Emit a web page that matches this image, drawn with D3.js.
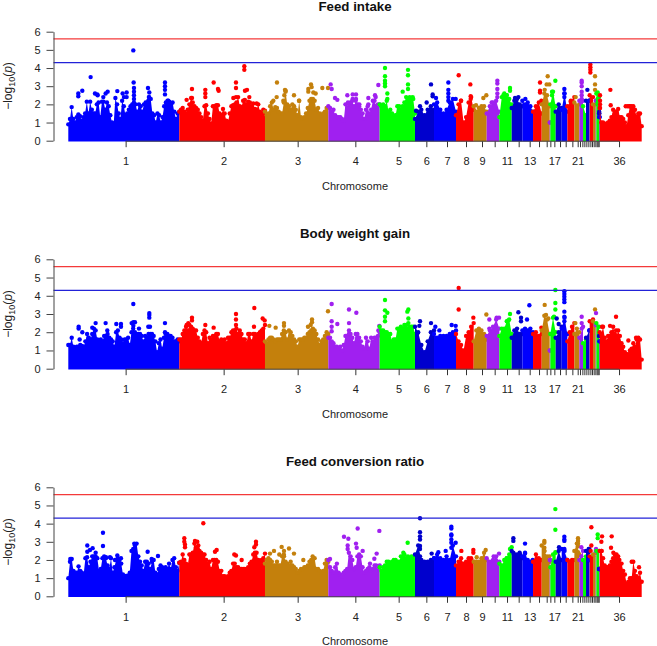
<!DOCTYPE html>
<html><head><meta charset="utf-8">
<script src="https://cdnjs.cloudflare.com/ajax/libs/d3/7.8.5/d3.min.js"></script>
<style>html,body{margin:0;padding:0;background:#fff}svg{display:block}text{font-family:"Liberation Sans",Arial,sans-serif;fill:#222}</style>
</head><body><svg id="c" width="657" height="646"></svg>
<script>
// Chromosome boundaries on a shared genome coordinate
const chromStarts=[205,538,795,985,1139,1245,1302,1368,1421,1460,1498,1535,1567,1599,1625,1649,1651,1667,1685,1702,1723,1738,1749,1758,1768,1769,1779,1787,1789,1797,1798,1799,1925];
const chromColors=["#0000ff","#ff0000","#c4800c","#a020f0","#00ff00","#0000cd"];
const tickPositions=[377,671,893,1066,1196,1279,1341,1398,1446,1484,1521,1556,1589,1617,1640,1651,1663,1680,1697,1717,1733,1740,1747,1753,1759,1765,1771,1776,1781,1786,1790,1793,1796,1857];
const tickLabels=["1","2","3","4","5","6","7","8","9","","11","","13","","","","17","","","","21","","","","","","","","","","","","","36"];
const yTicks=[0,1,2,3,4,5,6];
const thresholds=[5.6,4.3];
const titles=["Feed intake","Body weight gain","Feed conversion ratio"];

const fiEnvelope=[
[0.9,1.2,1.85,1.2,1.0,1.3,1.45,1.35,1.1,1.3,1.5,2.15,1.5,2.15,1.7,1.5,1.5,2.0,2.1,1.3,2.15,2.15,1.7,2.1,1.9,1.4,1.0,0.95,2.35,2.0,1.5,1.2,2.2,1.9,1.4,1.5,1.7,1.9,2.0,2.1,2.0,1.6,2.0,1.9,1.6,2.0,2.1,2.0,2.4,2.3,1.5,1.4,1.0,1.5,1.4,1.0,1.3,1.9,2.1,2.2,2.15,2.0,2.1,1.6,1.2,1.5,1.6],
[1.6,1.7,1.8,1.6,1.5,1.7,2.0,2.35,2.1,1.9,1.8,1.7,1.5,1.3,1.1,1.9,1.95,1.5,1.2,0.95,1.9,1.9,1.95,1.95,1.5,1.4,1.75,1.5,1.1,1.05,1.5,1.9,1.95,2.0,2.1,2.4,1.9,1.85,2.2,2.25,2.0,2.15,2.1,1.9,2.05,1.75,1.7,2.0,1.6,1.5,1.7,1.65],
[1.6,1.4,1.5,1.9,2.1,1.7,1.85,1.8,1.6,1.5,1.5,2.1,2.7,2.0,1.9,1.7,2.0,1.9,1.7,1.4,2.2,1.3,1.2,1.3,1.5,1.8,2.2,2.3,2.3,2.2,1.7,1.8,1.5,1.4,1.5,1.6,1.8,1.85],
[1.9,1.8,1.6,1.7,1.4,1.3,1.3,1.3,1.2,1.1,2.0,1.8,2.0,2.1,2.2,1.9,2.2,2.0,1.9,1.7,1.5,1.2,1.7,1.9,1.5,1.7,2.2,2.2,1.9,2.0,2.0],
[2.0,1.9,2.0,1.9,2.2,1.6,1.7,1.5,1.35,1.4,1.9,1.9,1.7,1.9,2.1,2.4,2.3,2.4,2.35,2.3,1.5],
[1.2,1.6,1.7,1.4,1.7,1.9,1.7],
[2.0,2.1,1.7,1.5,1.7,2.1,2.3,1.6],
[1.4,2.0,2.2,1.0,1.3,2.1,2.4,1.7],
[1.9,1.6,1.8,1.9,1.9,1.6],
[1.5,1.9,2.1,2.2,1.6],
[1.3,2.4,2.6,2.5,2.3,2.0],
[1.8,2.2,2.3,2.0,1.9],
[2.2,2.0,2.1,1.9,1.6],
[1.6,1.9,2.1,1.5],
[2.0,2.6,2.5,1.9],
[1.0],
[2.0,2.7,1.9],
[1.6,2.0,1.8],
[1.7,2.6,1.6],
[1.9,2.2,2.4],
[2.1,2.0],
[2.2,2.2],
[1.9,1.4],
[2.2,2.2],
[2.2],
[2.5,2.4],
[2.0,2.0],
[2.2],
[2.6,2.4],
[1.5],
[1.3],
[1.8,1.0,1.0,0.9,0.95,1.0,1.1,1.3,1.7,1.5,1.6,1.75,1.3,1.3,1.2,1.0,0.8,1.4,1.9,1.9,1.9,1.7,1.3,1.4,1.5,0.8]];
const fiPeaks=[[272,3.5],[400,4.97],[401,3.2],[402,2.9],[402,2.7],[402,2.5],[402,2.3],[247,2.75],[235,2.6],[235,2.45],[285,2.6],[292,2.55],[293,2.5],[310,2.4],[317,2.6],[323,2.7],[352,2.73],[368,2.6],[380,2.65],[380,2.4],[372,2.4],[444,2.9],[448,2.65],[447,2.4],[445,2.2],[495,3.2],[495,3.0],[495,2.8],[495,2.55],[505,2.2],
[733,4.1],[733,3.9],[641,3.2],[708,3.2],[708,2.9],[576,2.85],[616,2.8],[616,2.6],[616,2.4],[654,2.85],[656,2.75],[735,2.75],[741,2.8],[560,2.25],[576,2.35],[708,2.4],[700,2.35],[748,2.4],[770,2.05],
[831,3.2],[855,2.8],[857,2.75],[853,2.5],[850,2.2],[830,2.4],[882,2.5],[925,2.7],[933,3.1],[935,2.95],[925,2.85],[940,2.65],[947,2.6],[967,2.9],[984,2.9],[820,2.2],[897,2.2],
[992,3.1],[995,2.85],[1005,2.35],[1012,2.25],[1042,2.5],[1058,2.55],[1068,2.55],[1058,2.3],[1044,2.1],[1068,2.3],[1078,2.0],[1105,2.35],[1105,2.0],[1125,2.5],[1127,2.4],[1135,3.07],
[1155,4.0],[1155,3.55],[1155,3.3],[1155,3.15],[1155,3.0],[1162,2.6],[1162,2.3],[1224,3.9],[1224,3.6],[1224,3.1],[1224,2.85],[1208,2.7],[1238,2.4],[1248,1.65],
[1293,3.1],[1260,1.9],[1280,2.1],[1298,2.55],[1298,2.45],[1308,2.35],[1345,3.2],[1345,2.8],[1345,2.6],[1345,2.4],[1345,2.2],[1367,2.3],
[1376,3.6],[1411,3.1],[1412,2.45],[1412,2.3],[1383,2.2],[1428,1.95],[1450,2.35],[1459,2.5],[1492,3.3],[1492,3.15],[1492,2.85],[1492,2.6],[1492,2.4],[1475,2.1],
[1530,2.9],[1530,2.75],[1520,2.5],[1510,2.5],[1545,2.35],[1555,2.4],[1576,2.3],[1620,3.2],[1620,2.75],[1620,2.65],[1624,2.2],[1643,3.55],[1640,3.1],[1648,3.1],[1634,2.8],
[1666,3.3],[1656,2.7],[1656,2.5],[1693,2.85],[1693,2.6],[1693,2.4],[1712,2.15],[1727,2.4],[1745,3.3],[1745,3.2],[1745,3.0],[1745,2.7],[1745,2.5],[1745,2.3],[1762,2.8],
[1771,4.2],[1771,4.05],[1771,3.9],[1771,3.75],[1785,3.55],[1785,3.1],[1785,2.8],[1793,2.65],[1793,2.3],[1793,2.1],[1793,2.0],[1797.5,1.6],[1797.5,1.3],[1800,2.5],[1800,2.2],[1800,2.0],[1800,1.8],
[1831,2.8],[1832,1.95],[1848,1.6],[1877,1.9],[1883,1.9],[1888,1.9],[1915,1.5]];

const bwEnvelope=[
[1.3,1.3,1.7,1.2,1.1,1.2,1.2,1.3,1.25,1.2,1.5,1.9,1.7,1.6,1.9,2.2,2.1,1.6,1.5,1.6,1.5,1.8,1.8,1.9,1.7,1.6,1.5,1.2,2.0,2.1,1.7,1.6,1.4,1.6,1.6,1.7,1.3,2.0,2.2,2.0,1.9,1.9,1.9,1.8,1.5,1.8,1.7,1.9,1.9,1.9,1.8,1.5,0.9,1.4,1.6,1.1,1.7,1.9,1.9,1.8,1.7,1.7,1.5,1.5,1.6,1.5],
[1.6,1.6,1.9,2.1,2.3,2.1,2.4,2.3,2.2,2.1,2.1,1.7,1.5,1.4,1.9,2.1,2.0,1.4,1.7,1.6,1.8,1.8,1.9,1.9,1.5,1.6,1.5,1.6,1.4,1.7,1.7,2.0,2.1,2.1,2.2,1.9,2.1,1.9,1.6,1.6,1.4,1.9,1.9,1.5,1.9,1.9,1.8,1.9,2.0,2.1,2.2,2.4],
[1.5,1.4,1.6,1.7,1.7,1.6,1.5,1.6,1.6,1.6,1.9,2.1,2.0,1.6,2.1,2.0,1.8,1.6,1.5,1.2,1.6,1.6,1.6,1.7,1.7,1.9,2.0,2.1,2.2,2.1,1.9,1.6,1.3,1.5,1.6,1.8,2.0,1.9],
[1.7,1.7,1.5,1.4,1.2,1.2,1.1,1.2,1.0,1.3,1.8,1.8,1.9,1.9,1.7,1.4,1.9,1.9,1.7,1.5,1.2,1.1,1.7,1.5,1.1,1.7,1.5,1.7,1.7,1.8,2.0],
[2.3,2.1,2.1,2.0,2.0,1.9,1.9,1.5,1.6,1.6,2.2,2.2,2.3,2.2,2.4,2.4,2.2,2.3,2.3,2.3,1.9],
[2.3,2.0,1.3,0.9,1.5,2.0,2.1],
[1.9,1.7,1.8,1.8,1.8,1.9,2.0,2.1],
[1.9,1.5,1.3,1.0,1.8,2.0,2.3,2.5],
[1.5,2.1,2.2,2.1,1.9,1.6],
[1.8,2.1,2.3,2.7,2.2],
[1.8,2.2,2.2,2.6,2.7,1.9],
[1.7,2.1,2.2,1.9,1.9],
[2.1,2.2,2.1,2.2,2.0],
[1.9,2.0,1.8,1.9],
[2.1,2.9,2.7,1.9],
[1.0],
[1.9,2.8,2.0],
[1.7,2.0,2.3],
[2.2,2.8,1.9],
[1.5,2.0,2.3,2.5],
[1.9,2.2,2.0],
[1.7,2.3],
[1.4,1.6],
[1.7,2.1],
[2.1],
[2.6,2.7],
[2.6,2.4],
[2.4],
[2.5,2.3],
[1.8],
[1.5],
[2.0,1.9,2.3,1.7,1.5,1.8,1.8,2.0,2.3,1.9,1.8,2.1,1.8,1.4,1.2,0.9,0.8,0.8,1.0,1.1,1.4,1.2,1.6,1.7,1.6,0.5]];
const bwPeaks=[[400,3.55],[448,3.05],[448,2.95],[448,2.8],[400,2.55],[395,2.5],[405,2.55],[400,2.35],[236,2.3],[236,2.2],[287,2.5],[317,2.5],[349,2.45],[363,2.45],[363,2.3],[495,2.5],[322,2.1],[247,2.0],[239,1.6],[277,2.25],[450,2.3],[445,2.3],[417,2.2],[495,2.0],[512,1.8],
[763,3.33],[708,3.0],[708,2.7],[708,2.4],[576,2.8],[576,2.65],[616,2.4],[641,2.25],[762,2.3],[788,2.75],[794,2.65],[565,2.5],[560,2.4],
[808,2.35],[827,2.25],[852,2.5],[852,2.35],[855,2.0],[924,2.3],[936,2.7],[936,2.55],[932,2.4],[984,3.15],
[995,3.55],[995,2.6],[995,2.3],[995,2.05],[1012,2.45],[1047,3.25],[1069,3.07],[1047,2.5],[1047,2.1],[1138,2.35],[1135,2.1],
[1155,3.77],[1155,3.2],[1162,3.07],[1155,2.85],[1155,2.6],[1225,3.25],[1222,3.13],[1225,2.75],[1225,2.5],
[1260,2.6],[1258,2.35],[1252,1.95],[1293,2.5],[1306,2.3],[1318,2.1],[1355,2.4],[1367,2.35],
[1376,4.43],[1376,3.25],[1420,2.8],[1459,2.97],[1468,2.7],[1490,2.8],[1497,2.8],[1468,2.2],[1530,3.0],[1525,2.65],[1555,3.1],[1563,2.8],[1563,2.6],[1588,3.48],[1581,2.7],[1624,2.25],
[1634,3.5],[1638,2.95],[1645,2.75],[1666,4.32],[1666,3.6],[1666,3.25],[1662,2.85],[1670,2.75],[1676,2.45],
[1693,4.25],[1693,4.1],[1693,3.95],[1693,3.8],[1693,3.65],[1693,3.13],[1693,2.85],[1693,2.6],[1726,2.5],[1745,2.85],[1745,2.5],[1745,2.2],[1785,3.25],[1788,3.05],
[1848,2.85],[1806,2.3],[1830,2.35],[1848,2.1],[1885,1.55],[1908,1.7]];

const fcEnvelope=[
[1.0,1.9,2.05,1.4,1.3,1.3,1.65,1.4,1.3,1.2,2.1,2.15,1.6,1.9,2.2,2.2,2.2,2.1,1.4,1.5,2.1,2.2,2.1,1.7,1.5,2.1,1.3,1.6,2.0,2.1,2.0,1.8,1.2,1.0,0.95,1.15,1.3,2.5,2.6,2.8,2.9,2.2,1.9,1.7,1.4,1.9,1.9,1.8,1.5,1.9,2.0,1.3,1.2,1.5,1.7,1.6,1.5,1.6,1.5,1.8,1.5,2.0,2.1,1.6,1.4,1.85],
[1.85,1.9,2.3,2.0,1.8,1.7,2.3,2.3,2.4,2.9,2.7,2.6,2.5,2.4,2.3,2.3,2.0,1.8,1.9,1.5,2.0,2.0,2.0,1.9,1.4,1.4,1.1,1.1,0.95,1.1,1.3,1.4,1.8,1.8,1.6,1.6,1.5,1.5,1.5,1.5,1.5,1.6,1.8,1.9,2.3,2.4,2.4,2.0,1.9,2.0,2.1,2.35],
[1.8,2.0,2.1,2.0,1.9,1.7,1.7,1.9,1.7,1.7,2.2,2.3,1.9,1.8,1.7,1.9,1.7,1.6,1.5,1.3,1.4,1.5,1.5,1.6,1.6,1.7,1.9,2.0,2.1,2.1,1.5,1.5,1.4,1.3,1.4,1.8,2.0,1.9],
[2.0,1.6,1.4,1.3,1.6,1.8,1.3,1.2,1.1,1.3,1.4,1.5,2.4,2.2,2.0,1.5,1.6,2.2,2.3,2.2,1.6,1.3,1.4,1.5,1.6,1.4,1.5,1.7,1.7,1.6,1.7],
[1.6,1.4,1.6,1.7,1.9,1.9,1.8,1.9,2.0,2.0,1.9,1.9,2.2,2.2,2.3,2.1,2.2,2.1,2.2,2.1,2.1],
[2.3,2.8,2.0,1.9,1.9,2.0,2.1],
[2.1,2.3,2.1,2.0,2.2,2.0,2.8,2.2],
[1.7,1.9,2.1,1.8,1.9,2.1,2.1,1.9],
[1.9,1.9,1.9,2.1,2.4,2.0],
[2.1,1.9,2.0,2.2,1.9],
[1.8,1.7,2.0,2.1,2.3,2.7],
[2.5,2.3,2.3,2.4,2.1],
[2.2,2.4,2.0,1.9,1.9],
[1.9,2.3,2.1,2.0],
[2.8,2.5,2.2,1.9],
[2.0],
[1.6,2.3,2.4],
[1.9,2.5,2.0],
[2.6,2.5,2.0],
[2.0,1.9,2.0,2.0],
[2.5,2.9,2.3],
[2.0,2.5],
[2.0,2.2],
[2.5,2.6],
[2.0],
[2.2,2.2],
[2.3,2.4],
[2.5],
[2.5,2.5],
[1.5],
[1.5],
[2.5,2.5,2.1,1.7,1.6,1.6,1.7,1.9,2.1,2.3,2.3,2.2,1.8,1.8,1.4,1.2,0.7,0.8,1.0,1.0,1.9,1.4,1.1,1.0,1.3,0.8]];
const fcPeaks=[[309,3.5],[309,2.77],[403,2.9],[262,2.8],[278,2.65],[270,2.55],[262,2.45],[287,2.4],[352,2.25],[363,2.1],[443,2.45],[474,2.22],[455,2.05],[330,2.15],[318,2.15],[378,1.12],[345,2.0],[211,2.05],
[610,4.02],[553,3.2],[553,3.0],[555,2.85],[555,2.7],[585,3.05],[592,3.0],[595,2.8],[650,2.55],[645,2.45],[703,2.3],[708,2.25],[725,2.0],[768,3.0],[768,2.85],[763,2.7],
[845,2.72],[867,2.63],[822,2.5],[852,2.5],[810,2.35],[838,2.3],[882,2.35],[852,2.2],[910,2.0],[938,2.2],
[1073,3.73],[1138,3.6],[1032,3.28],[1045,3.17],[1043,2.8],[1043,2.6],[1068,2.9],[1070,2.67],[1088,2.5],[1130,2.35],[1123,2.07],[1110,1.8],[990,2.05],
[1223,2.95],[1210,2.4],[1260,4.3],[1260,3.53],[1260,3.3],[1260,3.13],[1260,2.77],[1260,2.6],[1260,2.2],[1295,2.35],
[1354,3.83],[1354,3.73],[1354,3.4],[1354,3.35],[1354,3.13],[1354,2.95],[1354,2.67],[1367,2.95],[1337,2.5],[1315,2.43],
[1384,2.5],[1420,2.55],[1420,2.4],[1430,2.15],[1457,2.55],[1481,2.2],[1497,2.35],[1530,2.6],[1520,2.1],[1540,3.2],[1540,3.05],[1540,2.4],[1560,2.3],[1575,2.9],[1575,2.35],[1598,2.0],
[1633,3.05],[1633,2.95],[1633,2.67],[1633,2.5],[1648,2.2],[1666,4.8],[1666,3.66],[1666,2.43],[1677,2.7],[1693,3.28],[1693,3.13],[1693,3.05],[1693,2.6],
[1734,3.2],[1734,3.05],[1734,2.9],[1734,2.75],[1734,2.43],[1744,2.7],[1744,2.2],[1766,2.6],[1766,2.43],
[1774,3.8],[1774,2.8],[1772,2.5],[1788,2.6],[1793,3.4],[1793,3.2],
[1806,3.3],[1804,3.0],[1835,3.3],[1833,2.67],[1805,2.5],[1840,2.4],[1858,2.0],[1895,1.9],[1917,1.6]];

const envelopes=[fiEnvelope,bwEnvelope,fcEnvelope];
const peaks=[fiPeaks,bwPeaks,fcPeaks];
const panelTop=[31.7,259.3,487.3], panelBottom=[140.7,368.7,596.3], titleY=[10.5,238,466], yLabelCenter=[86,314,542];

const svg=d3.select("#c");
const x=d3.scaleLinear().domain([chromStarts[0],chromStarts[chromStarts.length-1]]).range([68.3,641.7]);
const colorOf=i=>chromColors[i%chromColors.length];
const chromOf=p=>Math.min(chromStarts.length-2,Math.max(0,d3.bisectRight(chromStarts,p)-1));
const R=2.2;

titles.forEach((title,k)=>{
  const g=svg.append("g");
  const y=d3.scaleLinear().domain([0,6]).range([panelBottom[k],panelTop[k]]);
  const env=envelopes[k];
  const byChrom=d3.group(peaks[k],d=>chromOf(d[0]));
  env.forEach((vals,i)=>{
    const s=chromStarts[i],e=chromStarts[i+1];
    const v=vals.length>1?vals:[vals[0],vals[0]];
    const pts=v.map((d,j)=>[s+(e-s)*j/(v.length-1),d]);
    const c=colorOf(i);
    g.append("path").datum(pts)
      .attr("d",d3.area().x(d=>x(d[0])).y0(y(0)+0.7).y1(d=>y(d[1])))
      .attr("fill",c);
    g.selectAll(null).data(pts).join("circle")
      .attr("cx",d=>x(d[0])).attr("cy",d=>y(d[1])).attr("r",R).attr("fill",c);
    g.selectAll(null).data(byChrom.get(i)||[]).join("circle")
      .attr("cx",d=>x(d[0])).attr("cy",d=>y(d[1])).attr("r",R).attr("fill",c);
  });
  g.selectAll(null).data(thresholds).join("line")
    .attr("x1",53.5).attr("x2",657).attr("y1",d=>y(d)).attr("y2",d=>y(d))
    .attr("stroke",(d,i)=>i===0?"#f43a3a":"#2222d8").attr("stroke-width",1.2);
  const ya=g.append("g").attr("transform","translate(53.5,0)")
    .call(d3.axisLeft(y).tickValues(yTicks).tickFormat(d3.format("d")).tickSize(7).tickSizeOuter(0).tickPadding(6));
  ya.selectAll("path,line").attr("stroke","#444").attr("stroke-width",1);
  ya.selectAll("text").style("font-size","11px").attr("fill","#222");
  const xa=g.append("g").attr("transform",`translate(0,${panelBottom[k]+0.5})`)
    .call(d3.axisBottom(x).tickValues(tickPositions).tickFormat((d,i)=>tickLabels[i]).tickSize(6).tickSizeOuter(0).tickPadding(10));
  xa.select(".domain").remove();
  xa.append("line").attr("x1",x(tickPositions[0])).attr("x2",x(tickPositions[tickPositions.length-1])).attr("stroke","#444");
  xa.selectAll(".tick line").attr("stroke","#333");
  xa.selectAll("text").style("font-size","11px").attr("fill","#222");
  g.append("text").attr("x",355).attr("y",titleY[k]).attr("text-anchor","middle").style("font-size","13.3px").style("font-weight","bold").style("fill","#111").text(title);
  g.append("text").attr("x",355).attr("y",panelBottom[k]+49).attr("text-anchor","middle").style("font-size","11px").text("Chromosome");
  const yl=g.append("text").attr("transform",`translate(12,${yLabelCenter[k]}) rotate(-90)`).attr("text-anchor","middle").style("font-size","12px");
  yl.append("tspan").text("\u2212log");
  yl.append("tspan").attr("dy",2.5).style("font-size","9px").text("10");
  yl.append("tspan").attr("dy",-2.5).text("(");
  yl.append("tspan").style("font-style","italic").text("p");
  yl.append("tspan").text(")");
});
</script></body></html>
